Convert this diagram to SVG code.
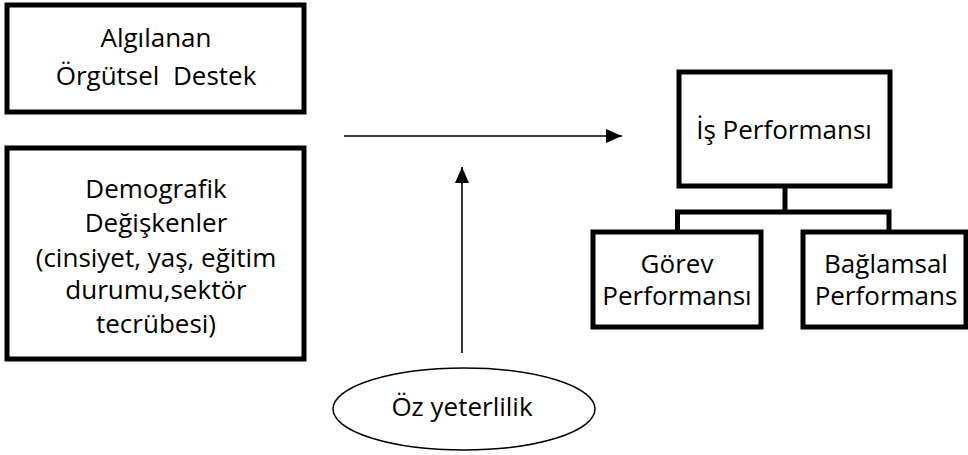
<svg xmlns="http://www.w3.org/2000/svg" width="968" height="455" viewBox="0 0 968 455">
<style>
.box{fill:#fff;stroke:#000;stroke-width:5}
.t{font-family:"Open Sans","Noto Sans","Liberation Sans",sans-serif;font-size:26px;fill:#000;text-anchor:middle}
.arr{stroke:#000;stroke-width:1.6;fill:none;marker-end:url(#ah)}
.tree{stroke:#000;stroke-width:5;fill:none}
</style>
<defs>
<marker id="ah" viewBox="0 0 16 14" refX="16" refY="7" markerWidth="16" markerHeight="14" markerUnits="userSpaceOnUse" orient="auto">
<path d="M0,0 L16,7 L0,14 z" fill="#000"/>
</marker>
</defs>
<rect width="968" height="455" fill="#fff"/>
<g id="connectors">
<line class="arr" x1="344" y1="136" x2="622" y2="136"/>
<line class="arr" x1="462" y1="353" x2="462" y2="167"/>
<path class="tree" d="M785,186 V212 M677.5,232 V212 H889 V232"/>
</g>
<g id="algilanan">
<rect class="box" x="7" y="5" width="297" height="107"/>
<text class="t" x="156" y="47">Algılanan</text>
<text class="t" x="156" y="85" xml:space="preserve">Örgütsel  Destek</text>
</g>
<g id="demografik">
<rect class="box" x="7" y="148" width="297" height="211"/>
<text class="t" x="156" y="198">Demografik</text>
<text class="t" x="156" y="232">Değişkenler</text>
<text class="t" x="156" y="267">(cinsiyet, yaş, eğitim</text>
<text class="t" x="156" y="299">durumu,sektör</text>
<text class="t" x="156" y="333">tecrübesi)</text>
</g>
<g id="is-performansi">
<rect class="box" x="679" y="72" width="211" height="114"/>
<text class="t" x="784" y="139">İş Performansı</text>
</g>
<g id="gorev">
<rect class="box" x="593" y="232" width="168" height="95"/>
<text class="t" x="677" y="273">Görev</text>
<text class="t" x="677" y="305">Performansı</text>
</g>
<g id="baglamsal">
<rect class="box" x="803" y="232" width="163" height="95"/>
<text class="t" x="886" y="273">Bağlamsal</text>
<text class="t" x="886" y="305">Performans</text>
</g>
<g id="oz-yeterlilik">
<ellipse cx="464" cy="409" rx="131" ry="41" fill="#fff" stroke="#000" stroke-width="1.5"/>
<text class="t" x="462" y="416">Öz yeterlilik</text>
</g>
</svg>
